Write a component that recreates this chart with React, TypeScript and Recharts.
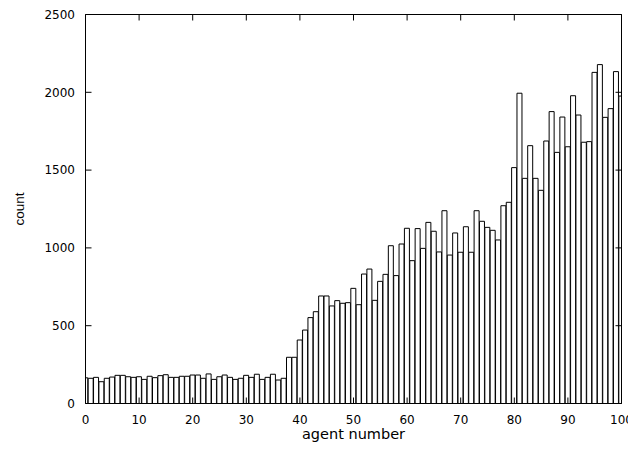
import React from 'react';
import { BarChart, Bar, XAxis, YAxis } from 'recharts';

const agents = [
  0, 1, 2, 3, 4, 5, 6, 7, 8, 9, 10, 11, 12, 13, 14, 15, 16, 17, 18, 19, 20,
  21, 22, 23, 24, 25, 26, 27, 28, 29, 30, 31, 32, 33, 34, 35, 36, 37, 38, 39, 40,
  41, 42, 43, 44, 45, 46, 47, 48, 49, 50, 51, 52, 53, 54, 55, 56, 57, 58, 59, 60,
  61, 62, 63, 64, 65, 66, 67, 68, 69, 70, 71, 72, 73, 74, 75, 76, 77, 78, 79, 80,
  81, 82, 83, 84, 85, 86, 87, 88, 89, 90, 91, 92, 93, 94, 95, 96, 97, 98, 99, 100,
];

const counts = [
  165, 162, 168, 140, 162, 170, 181, 181, 172, 168, 172, 155, 175, 166, 179, 185, 168, 168, 175, 175, 183,
  183, 162, 190, 155, 172, 183, 168, 155, 162, 181, 168, 188, 155, 168, 188, 151, 162, 297, 297,
  408, 472, 552, 590, 691, 691, 627, 661, 644, 648, 740, 635, 832, 864, 663, 785, 830, 1014, 822,
  1025, 1126, 918, 1124, 997, 1164, 1107, 974, 1239, 954, 1096, 972, 1136, 972, 1239, 1171, 1132, 1113, 1051, 1271, 1293, 1516,
  1994, 1447, 1657, 1447, 1370, 1687, 1876, 1614, 1841, 1650, 1978, 1854, 1679, 1683, 2128, 2178, 1839, 1895, 2133, 1976,
];

const xTicks = [0, 10, 20, 30, 40, 50, 60, 70, 80, 90, 100];
const yTicks = [0, 500, 1000, 1500, 2000, 2500];

const xLabel = 'agent number';
const yLabel = 'count';

const data = agents.map((a, i) => ({ agent: a, count: counts[i] }));

const TICK_FONT = 'DejaVu Sans';
const TICK_SIZE = 12;
const INNER_TICK = 6;
const Y_MARGIN = 10.5;
const X_MARGIN = 12;

const LeftTick = (props: any) => {
  const { x, y, payload } = props;
  const axisX = x + Y_MARGIN;
  return (
    <g>
      <line x1={axisX} x2={axisX + INNER_TICK} y1={y} y2={y} stroke="#000" strokeWidth={1} />
      <text x={x} y={y} dy="0.36em" textAnchor="end" fontFamily={TICK_FONT} fontSize={TICK_SIZE} fill="#000">
        {payload.value}
      </text>
    </g>
  );
};

const BottomTick = (props: any) => {
  const { x, y, payload } = props;
  const axisY = y - X_MARGIN;
  return (
    <g>
      <line x1={x} x2={x} y1={axisY} y2={axisY - INNER_TICK} stroke="#000" strokeWidth={1} />
      <text x={x} y={y} dy="0.71em" textAnchor="middle" fontFamily={TICK_FONT} fontSize={TICK_SIZE} fill="#000">
        {payload.value}
      </text>
    </g>
  );
};

const TopTick = (props: any) => {
  const { x, y } = props;
  return <line x1={x} x2={x} y1={y} y2={y + INNER_TICK} stroke="#000" strokeWidth={1} />;
};

const RightTick = (props: any) => {
  const { x, y } = props;
  return <line x1={x} x2={x - INNER_TICK} y1={y} y2={y} stroke="#000" strokeWidth={1} />;
};

export default function App() {
  return (
    <div style={{ width: 636, height: 454, margin: -8 }}>
      <BarChart
        width={636}
        height={454}
        data={data}
        margin={{ top: 14.5, right: 14.5, left: 0, bottom: 8 }}
        barCategoryGap={0}
        barGap={0}
      >
        <XAxis
          xAxisId="b"
          dataKey="agent"
          type="number"
          domain={[0, 100]}
          allowDataOverflow
          ticks={xTicks}
          interval={0}
          height={42.5}
          tickLine={false}
          tickSize={0}
          tickMargin={X_MARGIN}
          tick={<BottomTick />}
          axisLine={{ stroke: '#000', strokeWidth: 1 }}
          label={{
            value: xLabel,
            position: 'insideBottom',
            offset: 7,
            style: { fontFamily: 'DejaVu Sans', fontSize: 14.5, fill: '#000', textAnchor: 'middle' },
          }}
        />
        <XAxis
          xAxisId="t"
          orientation="top"
          dataKey="agent"
          type="number"
          domain={[0, 100]}
          allowDataOverflow
          ticks={xTicks}
          interval={0}
          mirror
          height={1}
          tickLine={false}
          tickSize={0}
          tickMargin={0}
          tick={<TopTick />}
          axisLine={{ stroke: '#000', strokeWidth: 1 }}
        />
        <YAxis
          yAxisId="l"
          dataKey="count"
          type="number"
          domain={[0, 2500]}
          allowDataOverflow
          ticks={yTicks}
          interval={0}
          width={85.5}
          tickLine={false}
          tickSize={0}
          tickMargin={Y_MARGIN}
          tick={<LeftTick />}
          axisLine={{ stroke: '#000', strokeWidth: 1 }}
          label={{
            value: yLabel,
            angle: -90,
            position: 'insideLeft',
            offset: 19,
            style: { fontFamily: 'Liberation Sans', fontSize: 13.5, fill: '#000', textAnchor: 'middle' },
          }}
        />
        <YAxis
          yAxisId="r"
          orientation="right"
          dataKey="count"
          type="number"
          domain={[0, 2500]}
          allowDataOverflow
          ticks={yTicks}
          interval={0}
          mirror
          width={1}
          tickLine={false}
          tickSize={0}
          tickMargin={0}
          tick={<RightTick />}
          axisLine={{ stroke: '#000', strokeWidth: 1 }}
        />
        <Bar
          xAxisId="b"
          yAxisId="l"
          dataKey="count"
          fill="#fff"
          stroke="#000"
          strokeWidth={1}
          isAnimationActive={false}
        />
      </BarChart>
    </div>
  );
}
